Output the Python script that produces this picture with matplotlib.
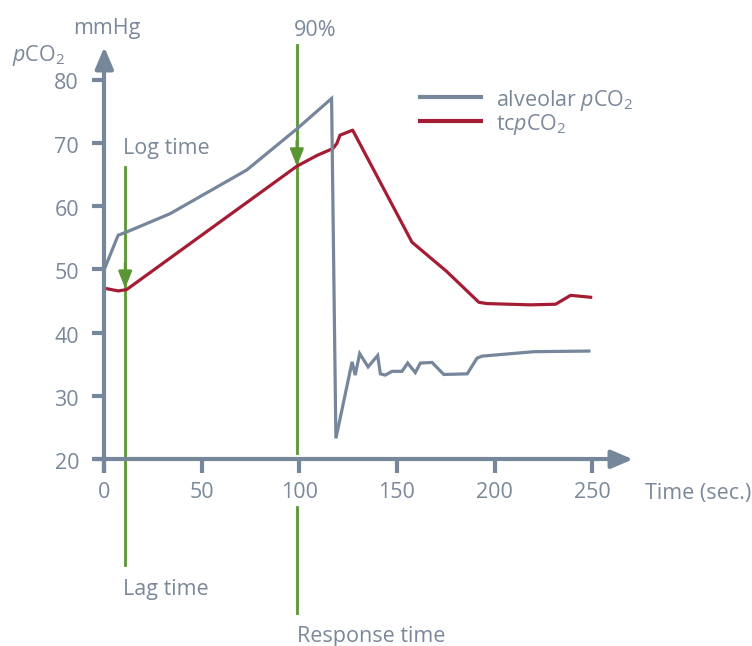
import matplotlib
matplotlib.use("Agg")
import matplotlib.pyplot as plt

# ---- data ----
alv_t = [0, 7.1, 11.4, 33.7, 73, 98.7, 116.5, 118.7, 127, 128.6, 130.9, 135.2, 140.1, 141.5,
         144, 147.5, 152.6, 155.5, 159.4, 162, 168, 174, 186, 191.1, 193.7, 220.2, 248.4]
alv_v = [50.0, 55.4, 55.9, 58.8, 65.7, 72.2, 77.0, 23.3, 35.4, 33.3, 36.7, 34.6, 36.4, 33.5,
         33.3, 33.9, 33.9, 35.2, 33.7, 35.2, 35.3, 33.4, 33.5, 36.0, 36.3, 37.0, 37.1]
tc_t = [0.5, 7.1, 11.4, 98.7, 109, 117.2, 119.2, 120.8, 127.3, 157.7, 175.4, 192, 196.2, 218.5,
        231.3, 239, 249.3]
tc_v = [47.0, 46.6, 46.8, 66.3, 68.0, 69.1, 69.9, 71.2, 72.0, 54.3, 49.7, 44.8, 44.6, 44.4,
        44.5, 45.9, 45.6]
x_ticks = [0, 50, 100, 150, 200, 250]
y_ticks = [20, 30, 40, 50, 60, 70, 80]
lag_t = 10.7
lag_v = 47.0
resp_t = 98.7
resp_v = 66.3

AX = "#76869b"
TXT = "#7b889a"
RED = "#a51d33"
GRN = "#5b9634"
FS = 15.5

plt.rcParams['font.family'] = ['Open Sans', 'DejaVu Sans']
plt.rcParams['mathtext.fontset'] = 'custom'
plt.rcParams['mathtext.rm'] = 'Open Sans'
plt.rcParams['mathtext.it'] = 'Open Sans:italic'

fig = plt.figure(figsize=(7.52, 6.46), dpi=100)
ax = fig.add_axes([0, 0, 1, 1])
sx = 1.951
sy = 6.33
x0px, y0px = 104.3, 459.3
ax.set_xlim(-x0px / sx, (752 - x0px) / sx)
ax.set_ylim(20 - (646 - y0px) / sy, 20 + y0px / sy)
ax.axis('off')

def px2x(px):
    return (px - x0px) / sx

def py2y(py):
    return 20 + (y0px - py) / sy

# axes
ax.plot([0, 0], [py2y(473), py2y(60)], color=AX, lw=3, solid_capstyle='butt', zorder=3)
ax.annotate('', xy=(0, py2y(47)), xytext=(0, py2y(70)),
            arrowprops=dict(arrowstyle='-|>,head_length=13,head_width=5.5', mutation_scale=1,
                            color=AX, lw=3, shrinkA=0, shrinkB=0), zorder=3)
ax.plot([px2x(94), px2x(620)], [20, 20], color=AX, lw=3, solid_capstyle='butt', zorder=3)
ax.annotate('', xy=(px2x(633), 20), xytext=(px2x(610), 20),
            arrowprops=dict(arrowstyle='-|>,head_length=13,head_width=5.5', mutation_scale=1,
                            color=AX, lw=3, shrinkA=0, shrinkB=0), zorder=3)
for t in x_ticks:
    ax.plot([t, t], [20, py2y(473)], color=AX, lw=3, solid_capstyle='butt', zorder=3)
    ax.text(t, py2y(493), str(t), color=TXT, fontsize=FS, ha='center', va='center',
            bbox=dict(facecolor='white', edgecolor='none', pad=1) if t == 100 else None, zorder=4)
for v in y_ticks:
    ax.plot([px2x(92), 0], [v, v], color=AX, lw=3, solid_capstyle='butt', zorder=3)
    ax.text(px2x(79), v - 0.7, str(v), color=TXT, fontsize=FS, ha='right', va='center')

ax.text(px2x(645), py2y(493), 'Time (sec.)', color=TXT, fontsize=FS, ha='left', va='center')
ax.text(px2x(73), py2y(34), 'mmHg', color=TXT, fontsize=FS, ha='left', va='baseline')
ax.text(px2x(12), py2y(61), r'$\mathit{p}$CO$_2$', color=TXT, fontsize=FS, ha='left', va='baseline')

# green marker lines
ax.plot([lag_t, lag_t], [py2y(167), py2y(565)], color=GRN, lw=2, zorder=2)
ax.annotate('', xy=(lag_t, lag_v), xytext=(lag_t, lag_v + 4),
            arrowprops=dict(arrowstyle='-|>,head_length=10,head_width=4', mutation_scale=1,
                            color=GRN, lw=2, shrinkA=0, shrinkB=0), zorder=2)
ax.plot([resp_t, resp_t], [py2y(45), py2y(453)], color=GRN, lw=2, zorder=2)
ax.plot([resp_t, resp_t], [py2y(507), py2y(613)], color=GRN, lw=2, zorder=2)
ax.annotate('', xy=(resp_t, resp_v), xytext=(resp_t, resp_v + 4),
            arrowprops=dict(arrowstyle='-|>,head_length=10,head_width=4', mutation_scale=1,
                            color=GRN, lw=2, shrinkA=0, shrinkB=0), zorder=2)

ax.text(px2x(123), py2y(154), 'Log time', color=TXT, fontsize=FS, ha='left', va='baseline')
ax.text(px2x(123), py2y(595), 'Lag time', color=TXT, fontsize=FS, ha='left', va='baseline')
ax.text(px2x(297), py2y(642), 'Response time', color=TXT, fontsize=FS, ha='left', va='baseline')
ax.text(px2x(294), py2y(36), '90%', color=TXT, fontsize=FS, ha='left', va='baseline')

# data lines
ax.plot(alv_t, alv_v, color=AX, lw=2.3, zorder=2.5, solid_joinstyle='miter')
ax.plot(tc_t, tc_v, color=RED, lw=2.3, zorder=2.4)

# legend
ax.plot([px2x(418), px2x(483)], [py2y(97), py2y(97)], color=AX, lw=3, solid_capstyle='butt')
ax.plot([px2x(418), px2x(483)], [py2y(121), py2y(121)], color=RED, lw=3, solid_capstyle='butt')
ax.text(px2x(496), py2y(106), r'alveolar $\mathit{p}$CO$_2$', color=TXT, fontsize=FS, ha='left', va='baseline')
ax.text(px2x(496), py2y(130), r'tc$\mathit{p}$CO$_2$', color=TXT, fontsize=FS, ha='left', va='baseline')

fig.savefig('out.png', dpi=100)
